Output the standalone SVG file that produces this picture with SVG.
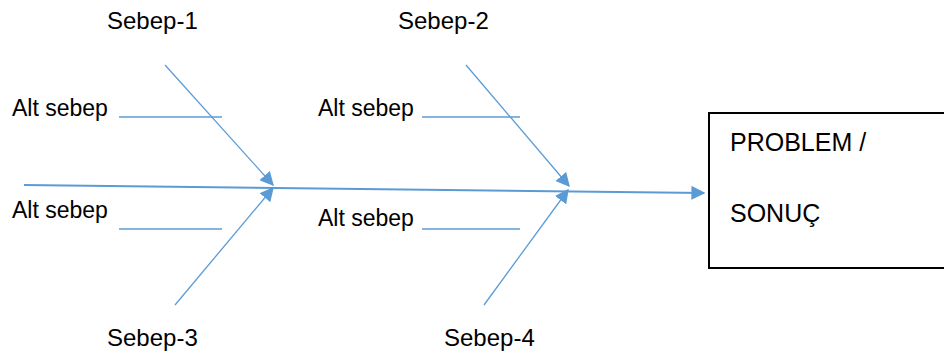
<svg xmlns="http://www.w3.org/2000/svg" width="944" height="356" viewBox="0 0 944 356">
<defs>
<style>
.t{font-family:"Liberation Sans",Arial,sans-serif;font-size:24px;fill:#000}
.s{font-size:23px}
.b{font-size:25px}
.ln{stroke:#5b9bd5;stroke-width:1.3;fill:none}
.sp{stroke:#5b9bd5;stroke-width:2;fill:none}
</style>
<marker id="ah2" viewBox="0 0 10 10" refX="9" refY="5" markerWidth="14" markerHeight="14" markerUnits="userSpaceOnUse" orient="auto"><path d="M0,0 L10,5 L0,10 z" fill="#5b9bd5"/></marker>
</defs>
<g id="connectors">
<path class="sp" d="M24,185 L704,193" marker-end="url(#ah2)"/>
<path class="ln" d="M165,65 L273,185" marker-end="url(#ah2)"/>
<path class="ln" d="M175,305 L273,188" marker-end="url(#ah2)"/>
<path class="ln" d="M466,65 L569,186" marker-end="url(#ah2)"/>
<path class="ln" d="M484,305 L568,190" marker-end="url(#ah2)"/>
<path class="ln" d="M119,117 L222,117"/>
<path class="ln" d="M119,229 L222,229"/>
<path class="ln" d="M422,117 L520,117"/>
<path class="ln" d="M422,229 L520,229"/>
</g>
<g id="problem">
<rect x="709" y="113" width="240" height="155" fill="#fff" stroke="#000" stroke-width="2"/>
<text class="t b" x="730" y="151">PROBLEM /</text>
<text class="t b" x="730" y="222">SONUÇ</text>
</g>
<g id="sebep1"><text class="t" x="107" y="29">Sebep-1</text></g>
<g id="sebep2"><text class="t" x="398" y="29">Sebep-2</text></g>
<g id="sebep3"><text class="t" x="107" y="346">Sebep-3</text></g>
<g id="sebep4"><text class="t" x="444" y="346">Sebep-4</text></g>
<g id="alt1"><text class="t s" x="12" y="116">Alt sebep</text></g>
<g id="alt2"><text class="t s" x="12" y="218">Alt sebep</text></g>
<g id="alt3"><text class="t s" x="318" y="116">Alt sebep</text></g>
<g id="alt4"><text class="t s" x="318" y="226">Alt sebep</text></g>
</svg>
